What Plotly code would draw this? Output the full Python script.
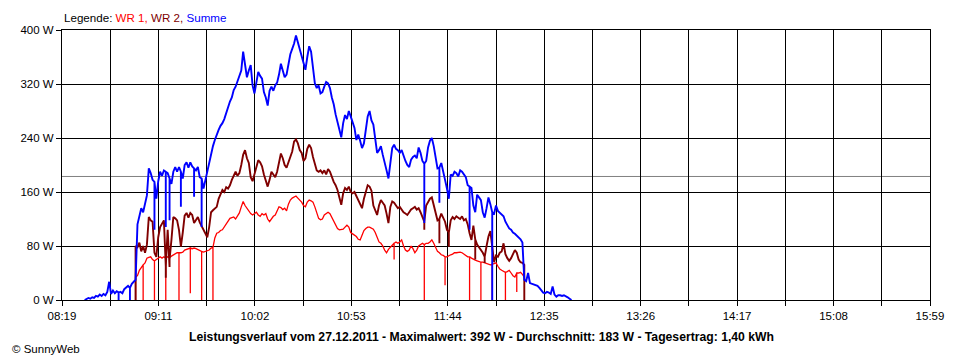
import plotly.graph_objects as go

# ---------------- data ----------------
STEP_MIN = 1                      # logger interval in minutes
SUMME_START = "08:31"
WR_START = "08:58"

summe = [
    0, 2, 3, 2, 4, 3, 6, 5, 8, 6,
    9, 7, 12, 27, 9, 14, 10, 13, 11, 12,
    10, 16, 19, 21, 18, 24, 27, 30, 112, 125,
    136, 130, 145, 155, 195, 188, 178, 175, 150, 176,
    190, 184, 192, 190, 188, 180, 172, 190, 197, 190,
    197, 190, 180, 200, 204, 196, 204, 198, 195, 192,
    197, 182, 180, 165, 178, 190, 203, 220, 228, 237,
    246, 252, 258, 262, 268, 278, 288, 294, 300, 311,
    316, 324, 335, 340, 368, 345, 330, 340, 348, 318,
    306, 322, 338, 332, 328, 308, 300, 288, 310, 316,
    310, 318, 322, 334, 350, 340, 330, 334, 352, 364,
    372, 380, 392, 382, 370, 360, 350, 341, 360, 376,
    368, 340, 321, 314, 318, 306, 308, 316, 323, 321,
    314, 300, 290, 275, 262, 250, 241, 262, 274, 268,
    280, 272, 265, 255, 237, 245, 236, 225, 232, 252,
    272, 280, 266, 260, 238, 218, 222, 228, 215, 205,
    192, 180, 206, 225, 230, 224, 222, 218, 222, 212,
    206, 200, 197, 208, 212, 214, 210, 226, 218, 206,
    202, 206, 226, 236, 240, 228, 212, 195, 196, 203,
    192, 178, 165, 150, 186, 184, 190, 188, 183, 192,
    190, 186, 182, 170, 168, 166, 140, 130, 156, 152,
    148, 130, 122, 136, 152, 142, 130, 128, 140, 132,
    129, 126, 124, 116, 110, 106, 104, 100, 98, 95,
    92, 90, 85, 30, 28, 40, 25, 24, 22, 22,
    21, 18, 15, 11, 10, 12, 11, 9, 20, 8,
    5, 7, 7, 6, 7, 6, 4, 2, 0,
]

wr2 = [
    80, 78, 85, 72, 80, 70, 82, 123, 118, 116,
    70, 64, 93, 108, 114, 118, 50, 104, 60, 89,
    123, 121, 118, 104, 79, 100, 125, 129, 122, 129,
    126, 114, 118, 123, 115, 110, 104, 100, 93, 108,
    130, 133, 136, 138, 150, 158, 163, 160, 167, 165,
    170, 178, 185, 190, 184, 188, 200, 215, 222, 210,
    203, 182, 176, 186, 198, 207, 204, 198, 186, 178,
    168, 178, 190, 186, 182, 190, 205, 217, 210, 200,
    196, 204, 212, 220, 235, 238, 232, 222, 218, 206,
    210, 224, 230, 225, 212, 200, 192, 190, 192, 188,
    192, 186, 194, 190, 182, 175, 170, 163, 152, 141,
    158, 166, 163, 168, 160, 158, 160, 154, 150, 142,
    136, 150, 160, 170, 168, 162, 140, 132, 126, 140,
    148, 144, 140, 128, 114, 138, 146, 144, 140, 136,
    138, 134, 130, 128, 126, 130, 134, 136, 138, 134,
    136, 130, 123, 116, 140, 146, 150, 152, 142, 132,
    118, 120, 128, 122, 116, 104, 100, 118, 123, 120,
    124, 122, 120, 124, 118, 120, 112, 99, 89, 110,
    90, 82, 78, 74, 70, 64, 80, 94, 102, 80,
    56, 66, 64, 70, 72, 84, 68, 62, 58, 62,
    68, 74, 70, 60, 56, 55, 52,
]

wr1 = [
    34, 36, 44, 48, 52, 55, 62, 63, 64, 60,
    58, 60, 62, 64, 62, 64, 62, 64, 63, 65,
    67, 68, 70, 70, 70, 71, 74, 75, 77, 77,
    76, 77, 76, 75, 73, 72, 71, 72, 72, 74,
    77, 78, 92, 99, 100, 103, 104, 108, 112, 116,
    121, 122, 123, 120, 124, 129, 138, 146, 140, 136,
    133, 128, 126, 128, 130, 126, 124, 128, 126, 128,
    120, 116, 120, 124, 126, 132, 138, 137, 134, 136,
    132, 142, 148, 151, 153, 154, 151, 148, 145, 140,
    138, 145, 148, 147, 145, 138, 128, 121, 119, 120,
    126, 128, 130, 128, 122, 116, 110, 106, 104, 104,
    105, 108, 111, 108, 100, 98, 96, 94, 90, 89,
    96, 103, 106, 108, 108, 107, 105, 100, 92, 86,
    84, 80, 74, 70, 75, 78, 82, 84, 86, 84,
    86, 89, 80, 74, 72, 74, 80, 76, 70, 74,
    80, 82, 84, 82, 84, 84, 86, 89, 84, 78,
    72, 70, 67, 66, 64, 64, 66, 67, 68, 70,
    70, 71, 71, 70, 68, 66, 64, 64, 62, 60,
    59, 58, 57, 56, 56, 55, 54, 52, 52, 53,
    54, 55, 50, 46, 44, 42, 41, 42, 44, 40,
    36, 34, 40, 40, 41, 38, 34,
]

# short drop-outs (time, lowest value reached)
summe_drop_times = ["08:49", "08:55", "09:08", "09:14", "09:16", "09:22",
                    "09:29", "09:33", "11:31", "11:39", "11:55", "12:07"]
summe_drop_lows = [0, 0, 104, 108, 118, 138, 153, 108, 114, 144, 104, 0]

wr2_drop_times = ["08:58", "09:14", "09:16", "11:31", "11:39", "11:44",
                  "11:58", "12:03", "12:24"]
wr2_drop_lows = [0, 33, 49, 104, 84, 79, 60, 55, 0]

wr1_drop_times = ["08:58", "09:02", "09:08", "09:14", "09:21", "09:27",
                  "09:33", "09:39", "11:15", "11:31", "11:42", "11:55",
                  "12:01", "12:07", "12:14", "12:20"]
wr1_drop_lows = [0, 0, 0, 0, 0, 10, 0, 0, 60, 0, 22, 0, 0, 0, 0, 12]

AVG_W = 183
X_START, X_END = "08:19", "15:59"
x_tick_labels = ["08:19", "09:11", "10:02", "10:53", "11:44",
                 "12:35", "13:26", "14:17", "15:08", "15:59"]
y_tick_vals = [0, 80, 160, 240, 320, 400]
y_tick_labels = ["0 W", "80 W", "160 W", "240 W", "320 W", "400 W"]
bottom_title = ("Leistungsverlauf vom 27.12.2011 - Maximalwert: 392 W - "
                "Durchschnitt: 183 W - Tagesertrag: 1,40 kWh")


def to_min(s):
    h, m = s.split(":")
    return int(h) * 60 + int(m)


def build(start, vals, drop_times, drop_lows):
    t0 = to_min(start)
    drops = {to_min(t): lo for t, lo in zip(drop_times, drop_lows)}
    xs, ys = [], []
    for i, v in enumerate(vals):
        t = t0 + i * STEP_MIN
        xs.append(t)
        ys.append(v)
        if t in drops:
            xs += [t, t]
            ys += [drops[t], v]
    return xs, ys


x1, y1 = build(WR_START, wr1, wr1_drop_times, wr1_drop_lows)
x2, y2 = build(WR_START, wr2, wr2_drop_times, wr2_drop_lows)
xs, ys = build(SUMME_START, summe, summe_drop_times, summe_drop_lows)

fig = go.Figure()
fig.add_trace(go.Scatter(x=x1, y=y1, mode="lines", name="WR 1",
                         line=dict(color="#ff0000", width=1.3)))
fig.add_trace(go.Scatter(x=x2, y=y2, mode="lines", name="WR 2",
                         line=dict(color="#800000", width=1.9)))
fig.add_trace(go.Scatter(x=xs, y=ys, mode="lines", name="Summe",
                         line=dict(color="#0000ff", width=1.9)))

x0, x9 = to_min(X_START), to_min(X_END)
n_int = (len(x_tick_labels) - 1) * 2
tickvals = [x0 + k * (x9 - x0) / n_int for k in range(n_int + 1)]
ticktext = [x_tick_labels[k // 2] if k % 2 == 0 else "" for k in range(n_int + 1)]

FONT = "Liberation Sans, Arial, sans-serif"

# page has an 8 px body margin: figure is 952x352, plot area at page 60..930 / 30..300
fig.update_layout(
    width=952, height=352,
    margin=dict(l=52, r=30, t=22, b=60),
    paper_bgcolor="white", plot_bgcolor="white",
    showlegend=False,
    font=dict(family=FONT, size=11, color="black"),
    shapes=[dict(type="line", xref="paper", x0=0, x1=1, yref="y",
                 y0=AVG_W, y1=AVG_W, line=dict(color="#808080", width=1),
                 layer="below")],
    annotations=[
        dict(xref="paper", yref="paper", x=0, y=1 + 13 / 270,
             xanchor="left", yanchor="middle", showarrow=False,
             text="Legende: <span style='color:#ff0000'>WR 1,</span> "
                  "<span style='color:#800000'>WR 2,</span> "
                  "<span style='color:#0000ff'>Summe</span>",
             font=dict(family=FONT, size=11.6, color="black")),
        dict(xref="paper", yref="paper", x=(480 - 60) / 870, y=-37 / 270,
             xanchor="center", yanchor="middle", showarrow=False,
             text="<b>" + bottom_title + "</b>",
             font=dict(family=FONT, size=12.2, color="black")),
        dict(xref="paper", yref="paper", x=-52 / 870, y=-49 / 270,
             xanchor="left", yanchor="middle", showarrow=False,
             text="© SunnyWeb",
             font=dict(family=FONT, size=11.5, color="black")),
    ],
)

fig.update_xaxes(range=[x0, x9], tickmode="array", tickvals=tickvals,
                 ticktext=ticktext, showgrid=True, gridcolor="black",
                 gridwidth=1, ticks="outside", ticklen=5, tickcolor="black",
                 showline=True, linecolor="black", linewidth=1, mirror=True,
                 zeroline=False, tickfont=dict(size=11.5))
fig.update_yaxes(range=[0, 400], tickmode="array", tickvals=y_tick_vals,
                 ticktext=y_tick_labels, showgrid=True, gridcolor="black",
                 gridwidth=1, ticks="outside", ticklen=5, tickcolor="black",
                 showline=True, linecolor="black", linewidth=1, mirror=True,
                 zeroline=False, tickfont=dict(size=11.5))

fig.write_html("out.html")
